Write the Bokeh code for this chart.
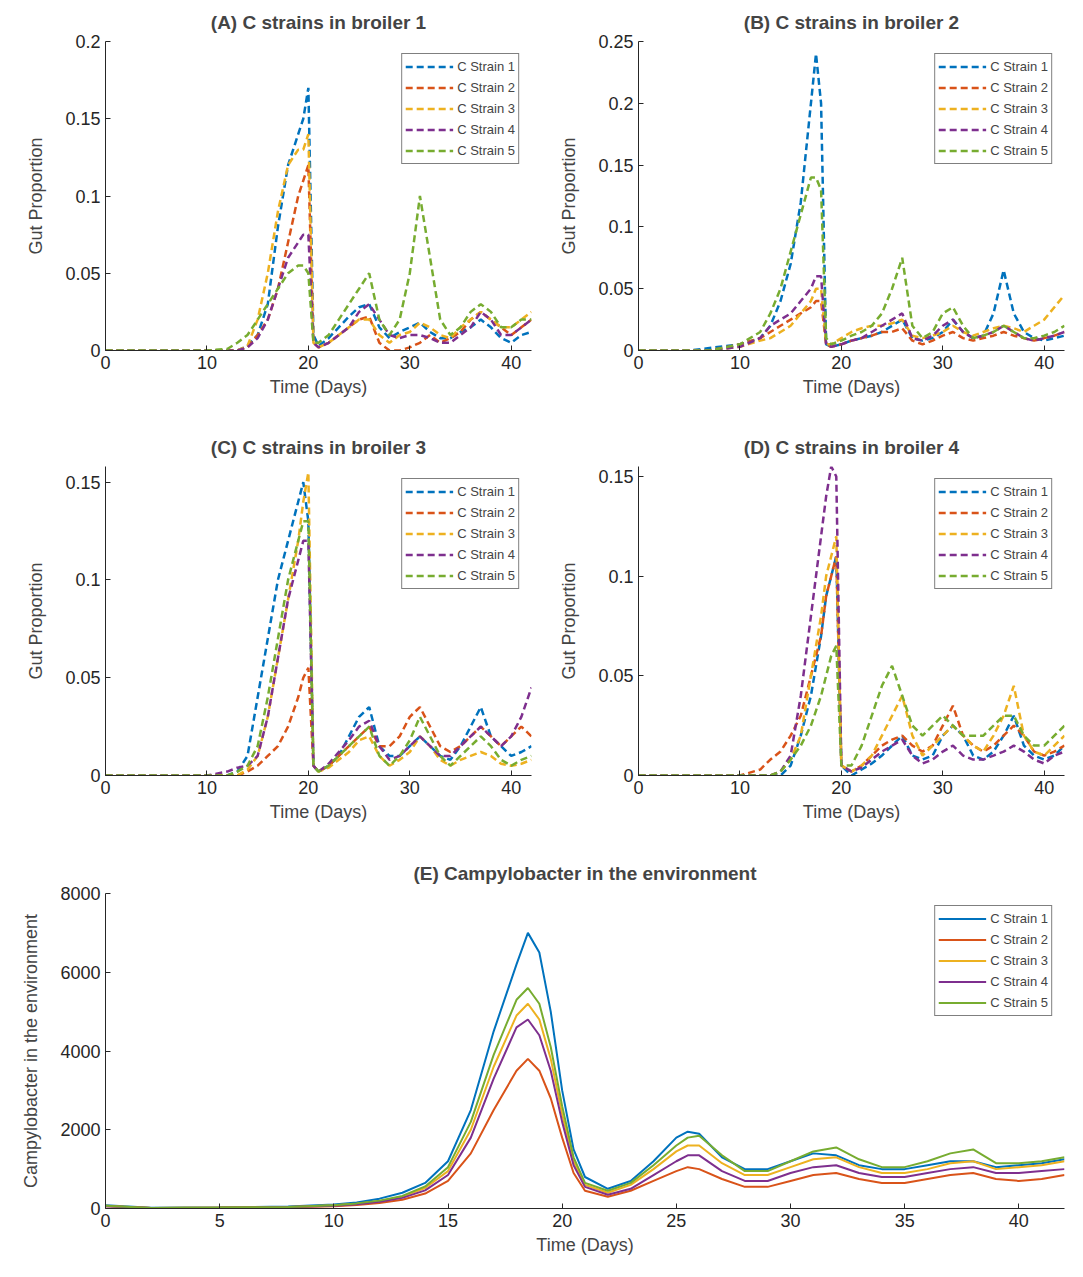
from bokeh.plotting import figure
from bokeh.layouts import column, row
from bokeh.models import Range1d, FixedTicker
from bokeh.embed import file_html
from bokeh.resources import INLINE

FONT = "Liberation Sans"
COLORS = ["#0072BD", "#D95319", "#EDB120", "#7E2F8E", "#77AC30"]
LABELS = ["C Strain 1", "C Strain 2", "C Strain 3", "C Strain 4", "C Strain 5"]

# ---- panel A: broiler 1
t_a = [0, 5, 10, 12, 13, 14, 15, 16, 17, 18, 19, 19.5, 20, 20.5, 21, 22, 23, 24, 25, 26, 27, 28,
       29, 30, 31, 32, 33, 34, 35, 36, 37, 38, 39, 40, 41, 42]
a_s1 = [0, 0, 0, 0, 0, 0.003, 0.01, 0.03, 0.08, 0.12, 0.14, 0.15, 0.17, 0.01, 0.003, 0.008, 0.015, 0.022,
        0.028, 0.03, 0.015, 0.008, 0.012, 0.015, 0.018, 0.012, 0.008, 0.008, 0.012, 0.015, 0.02, 0.015,
        0.008, 0.005, 0.01, 0.012]
a_s2 = [0, 0, 0, 0, 0, 0.002, 0.01, 0.02, 0.04, 0.07, 0.10, 0.11, 0.12, 0.005, 0.002, 0.005, 0.01, 0.015,
        0.02, 0.022, 0.005, 0, 0, 0.002, 0.005, 0.01, 0.005, 0.008, 0.012, 0.02, 0.025, 0.02, 0.015, 0.01,
        0.015, 0.02]
a_s3 = [0, 0, 0, 0, 0, 0.003, 0.02, 0.05, 0.09, 0.12, 0.13, 0.13, 0.14, 0.005, 0.002, 0.005, 0.01, 0.015,
        0.02, 0.02, 0.01, 0.005, 0.01, 0.012, 0.018, 0.015, 0.01, 0.008, 0.015, 0.02, 0.025, 0.02, 0.015,
        0.015, 0.02, 0.025]
a_s4 = [0, 0, 0, 0, 0, 0.002, 0.008, 0.02, 0.04, 0.06, 0.07, 0.075, 0.075, 0.005, 0.002, 0.005, 0.01,
        0.015, 0.025, 0.03, 0.02, 0.01, 0.008, 0.01, 0.01, 0.008, 0.005, 0.005, 0.01, 0.015, 0.025, 0.02,
        0.01, 0.01, 0.015, 0.02]
a_s5 = [0, 0, 0, 0.001, 0.005, 0.01, 0.02, 0.03, 0.04, 0.05, 0.055, 0.055, 0.05, 0.005, 0.005, 0.01, 0.02,
        0.03, 0.04, 0.05, 0.02, 0.01, 0.02, 0.05, 0.1, 0.06, 0.02, 0.01, 0.015, 0.025, 0.03, 0.025, 0.015,
        0.015, 0.02, 0.02]

# ---- panel B: broiler 2
t_b = [0, 5, 7, 10, 12, 13, 14, 15, 16, 17, 17.5, 18, 18.5, 19, 20, 21, 22, 23, 24, 25, 26, 27, 28, 29,
       30, 31, 32, 33, 34, 35, 36, 37, 38, 39, 40, 41, 42]
b_s1 = [0, 0, 0.002, 0.005, 0.01, 0.02, 0.04, 0.07, 0.12, 0.2, 0.24, 0.2, 0.005, 0.003, 0.005, 0.008, 0.01,
        0.012, 0.015, 0.02, 0.025, 0.01, 0.008, 0.01, 0.015, 0.025, 0.015, 0.01, 0.012, 0.03, 0.065, 0.03,
        0.015, 0.01, 0.008, 0.01, 0.012]
b_s2 = [0, 0, 0, 0.005, 0.01, 0.015, 0.02, 0.025, 0.03, 0.035, 0.04, 0.04, 0.005, 0.003, 0.005, 0.008,
        0.01, 0.012, 0.015, 0.015, 0.018, 0.008, 0.005, 0.008, 0.012, 0.015, 0.01, 0.008, 0.01, 0.012, 0.015,
        0.012, 0.01, 0.008, 0.01, 0.012, 0.015]
b_s3 = [0, 0, 0, 0.003, 0.008, 0.01, 0.015, 0.02, 0.03, 0.04, 0.05, 0.05, 0.005, 0.005, 0.01, 0.015, 0.018,
        0.02, 0.02, 0.022, 0.025, 0.012, 0.01, 0.012, 0.015, 0.02, 0.015, 0.012, 0.015, 0.018, 0.02, 0.018,
        0.015, 0.02, 0.025, 0.035, 0.045]
b_s4 = [0, 0, 0, 0.003, 0.01, 0.02, 0.025, 0.03, 0.04, 0.05, 0.06, 0.06, 0.005, 0.003, 0.005, 0.008, 0.01,
        0.015, 0.02, 0.025, 0.03, 0.01, 0.008, 0.012, 0.02, 0.025, 0.015, 0.01, 0.012, 0.015, 0.02, 0.015,
        0.01, 0.008, 0.01, 0.012, 0.015]
b_s5 = [0, 0, 0, 0.005, 0.015, 0.03, 0.05, 0.08, 0.11, 0.14, 0.14, 0.13, 0.01, 0.005, 0.008, 0.012, 0.015,
        0.02, 0.03, 0.05, 0.075, 0.02, 0.01, 0.015, 0.03, 0.035, 0.02, 0.01, 0.012, 0.015, 0.02, 0.015, 0.01,
        0.01, 0.012, 0.015, 0.02]

# ---- panel C: broiler 3
t_c = t_a
c_s1 = [0, 0, 0, 0, 0.002, 0.01, 0.04, 0.07, 0.1, 0.12, 0.14, 0.15, 0.13, 0.005, 0.002, 0.005, 0.01, 0.02,
        0.03, 0.035, 0.015, 0.01, 0.01, 0.015, 0.02, 0.015, 0.01, 0.008, 0.015, 0.025, 0.035, 0.02, 0.015,
        0.01, 0.012, 0.015]
c_s2 = [0, 0, 0, 0, 0, 0.002, 0.005, 0.01, 0.015, 0.025, 0.04, 0.05, 0.055, 0.005, 0.002, 0.005, 0.01,
        0.015, 0.02, 0.025, 0.015, 0.015, 0.02, 0.03, 0.035, 0.025, 0.015, 0.012, 0.015, 0.02, 0.025, 0.02,
        0.015, 0.02, 0.025, 0.02]
c_s3 = [0, 0, 0, 0, 0, 0.003, 0.01, 0.03, 0.06, 0.09, 0.12, 0.14, 0.155, 0.005, 0.002, 0.004, 0.008, 0.012,
        0.018, 0.02, 0.01, 0.005, 0.008, 0.012, 0.02, 0.015, 0.008, 0.005, 0.008, 0.01, 0.012, 0.01, 0.006,
        0.005, 0.006, 0.008]
c_s4 = [0, 0, 0, 0.002, 0.004, 0.005, 0.01, 0.03, 0.06, 0.09, 0.11, 0.12, 0.12, 0.005, 0.002, 0.006, 0.012,
        0.018, 0.025, 0.028, 0.015, 0.008, 0.01, 0.015, 0.02, 0.015, 0.01, 0.01, 0.015, 0.02, 0.025, 0.02,
        0.015, 0.02, 0.03, 0.045]
c_s5 = [0, 0, 0, 0, 0.002, 0.005, 0.015, 0.04, 0.07, 0.1, 0.12, 0.13, 0.13, 0.005, 0.002, 0.005, 0.01,
        0.015, 0.02, 0.025, 0.01, 0.005, 0.01, 0.018, 0.03, 0.02, 0.01, 0.005, 0.01, 0.015, 0.02, 0.015,
        0.008, 0.005, 0.008, 0.01]

# ---- panel D: broiler 4
t_d = [0, 5, 10, 12, 13, 14, 15, 16, 17, 18, 18.5, 19, 19.5, 20, 21, 22, 23, 24, 25, 26, 27, 28, 29, 30,
       31, 32, 33, 34, 35, 36, 37, 38, 39, 40, 41, 42]
d_s1 = [0, 0, 0, 0, 0, 0, 0.005, 0.02, 0.04, 0.07, 0.09, 0.1, 0.11, 0.005, 0.0, 0.003, 0.006, 0.01, 0.015,
        0.02, 0.01, 0.008, 0.01, 0.02, 0.025, 0.02, 0.01, 0.008, 0.012, 0.02, 0.03, 0.015, 0.01, 0.008, 0.01,
        0.015]
d_s2 = [0, 0, 0, 0.003, 0.008, 0.012, 0.02, 0.03, 0.05, 0.07, 0.09, 0.1, 0.11, 0.005, 0.002, 0.005, 0.01,
        0.015, 0.018, 0.02, 0.015, 0.012, 0.015, 0.025, 0.035, 0.02, 0.015, 0.012, 0.015, 0.02, 0.025, 0.02,
        0.012, 0.01, 0.012, 0.015]
d_s3 = [0, 0, 0, 0, 0, 0.002, 0.008, 0.02, 0.05, 0.08, 0.1, 0.11, 0.12, 0.005, 0.002, 0.005, 0.01, 0.02,
        0.03, 0.04, 0.02, 0.01, 0.015, 0.02, 0.025, 0.02, 0.015, 0.012, 0.02, 0.03, 0.045, 0.02, 0.012, 0.01,
        0.015, 0.02]
d_s4 = [0, 0, 0, 0, 0, 0.002, 0.01, 0.04, 0.08, 0.12, 0.14, 0.155, 0.15, 0.005, 0.002, 0.004, 0.008,
        0.012, 0.015, 0.018, 0.01, 0.006, 0.008, 0.012, 0.015, 0.01, 0.008, 0.008, 0.01, 0.012, 0.015, 0.012,
        0.008, 0.006, 0.01, 0.012]
d_s5 = [0, 0, 0, 0, 0, 0.002, 0.008, 0.015, 0.025, 0.04, 0.05, 0.06, 0.065, 0.005, 0.005, 0.015, 0.03,
        0.045, 0.055, 0.04, 0.025, 0.02, 0.025, 0.03, 0.025, 0.02, 0.02, 0.02, 0.025, 0.03, 0.03, 0.02, 0.015,
        0.015, 0.02, 0.025]

# ---- panel E: environment
t_e = [0, 2, 5, 8, 10, 11, 12, 13, 14, 15, 16, 17, 18, 18.5, 19, 19.5, 20, 20.5, 21, 22, 23, 24, 25, 25.5,
       26, 27, 28, 29, 30, 31, 32, 33, 34, 35, 36, 37, 38, 39, 40, 41, 42]
e_s1 = [80, 20, 30, 50, 100, 150, 250, 400, 650, 1200, 2500, 4500, 6200, 7000, 6500, 5000, 3000, 1500, 800,
        500, 700, 1200, 1800, 1950, 1900, 1300, 1000, 1000, 1200, 1400, 1350, 1100, 1000, 1000, 1100, 1200,
        1200, 1050, 1100, 1150, 1250]
e_s2 = [60, 15, 20, 30, 60, 90, 140, 220, 380, 700, 1400, 2500, 3500, 3800, 3500, 2800, 1800, 900, 450,
        300, 450, 700, 950, 1050, 1000, 750, 550, 550, 700, 850, 900, 750, 650, 650, 750, 850, 900, 750, 700,
        750, 850]
e_s3 = [70, 15, 25, 40, 80, 120, 190, 300, 520, 950, 2000, 3600, 4900, 5200, 4800, 3800, 2400, 1200, 600,
        400, 600, 1000, 1450, 1600, 1600, 1150, 850, 850, 1050, 1250, 1300, 1050, 900, 900, 1000, 1150, 1200,
        1000, 1050, 1100, 1200]
e_s4 = [60, 15, 20, 35, 70, 110, 170, 270, 460, 850, 1800, 3300, 4600, 4800, 4400, 3500, 2200, 1100, 550,
        350, 500, 850, 1200, 1350, 1350, 950, 700, 700, 900, 1050, 1100, 900, 800, 800, 900, 1000, 1050, 900,
        900, 950, 1000]
e_s5 = [70, 15, 25, 40, 80, 130, 200, 320, 560, 1050, 2200, 3900, 5300, 5600, 5200, 4100, 2600, 1300, 650,
        450, 650, 1100, 1600, 1800, 1850, 1350, 950, 950, 1200, 1450, 1550, 1250, 1050, 1050, 1200, 1400,
        1500, 1150, 1150, 1200, 1300]


def make_panel(title, t, series, y_max, y_ticks, x_ticks, y_label, w, h, dashed, standoff, bottom):
    p = figure(width=w, height=h, output_backend="svg", toolbar_location=None,
               x_range=Range1d(0, 42), y_range=Range1d(0, y_max),
               x_axis_label="Time (Days)", y_axis_label=y_label, title=title,
               min_border_left=105, min_border_right=2, min_border_top=5, min_border_bottom=bottom)
    p.grid.visible = False
    p.outline_line_color = None
    p.title.text_font = FONT
    p.title.text_font_size = "19px"
    p.title.align = "center"
    p.title.text_font_style = "bold"
    p.title.standoff = standoff
    for ax in (p.xaxis, p.yaxis):
        ax.axis_label_text_font = FONT
        ax.axis_label_text_font_size = "18px"
        ax.axis_label_text_font_style = "normal"
        ax.major_label_text_font = FONT
        ax.major_label_text_font_size = "18px"
        ax.major_tick_in = 5
        ax.major_tick_out = 0
        ax.minor_tick_line_color = None
        ax.axis_line_color = "#262626"
        ax.major_tick_line_color = "#262626"
        ax.major_label_text_color = "#262626"
    p.yaxis.axis_label_standoff = 16
    p.xaxis.ticker = FixedTicker(ticks=x_ticks)
    p.yaxis.ticker = FixedTicker(ticks=y_ticks)
    p.yaxis.major_label_overrides = {v: f"{v:g}" for v in y_ticks}
    for ys, c, lab in zip(series, COLORS, LABELS):
        if dashed:
            p.line(t, ys, color=c, line_width=2.5, line_dash="7 4", legend_label=lab)
        else:
            p.line(t, ys, color=c, line_width=2, legend_label=lab)
    p.legend.location = "top_right"
    p.legend.label_text_font = FONT
    p.legend.label_text_font_size = "13px"
    p.legend.label_height = 19
    p.legend.glyph_height = 19
    p.legend.glyph_width = 48
    p.legend.spacing = 2
    p.legend.padding = 3
    p.legend.margin = 12
    p.legend.label_standoff = 4
    p.legend.border_line_color = "black"
    return p


xt = [0, 10, 20, 30, 40]
gl = "Gut Proportion"
pa = make_panel("(A) C strains in broiler 1", t_a, [a_s1, a_s2, a_s3, a_s4, a_s5], 0.2,
                [0, 0.05, 0.1, 0.15, 0.2], xt, gl, 533, 425, True, 18, 75)
pb = make_panel("(B) C strains in broiler 2", t_b, [b_s1, b_s2, b_s3, b_s4, b_s5], 0.25,
                [0, 0.05, 0.1, 0.15, 0.2, 0.25], xt, gl, 533, 425, True, 18, 75)
pc = make_panel("(C) C strains in broiler 3", t_c, [c_s1, c_s2, c_s3, c_s4, c_s5], 0.158,
                [0, 0.05, 0.1, 0.15], xt, gl, 533, 425, True, 18, 75)
pd = make_panel("(D) C strains in broiler 4", t_d, [d_s1, d_s2, d_s3, d_s4, d_s5], 0.155,
                [0, 0.05, 0.1, 0.15], xt, gl, 533, 425, True, 18, 75)
pe = make_panel("(E) Campylobacter in the environment", t_e, [e_s1, e_s2, e_s3, e_s4, e_s5], 8000,
                [0, 2000, 4000, 6000, 8000], [0, 5, 10, 15, 20, 25, 30, 35, 40],
                "Campylobacter in the environment", 1066, 410, False, 20, 52)

layout = column(row(pa, pb), row(pc, pd), pe)
open("out.html", "w").write(file_html(layout, INLINE))
